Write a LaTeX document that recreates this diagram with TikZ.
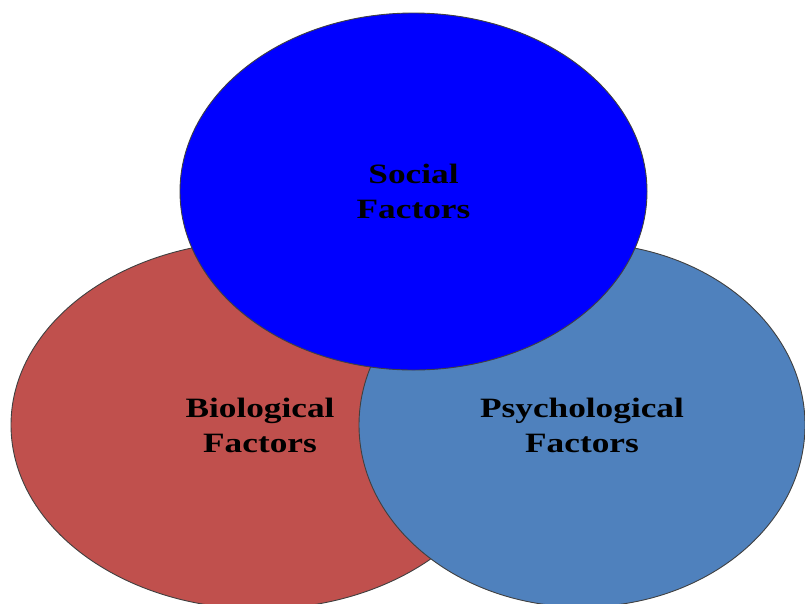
\documentclass[tikz,border=0pt]{standalone}
\usepackage{fontspec}
\usepackage{xcolor}
\usetikzlibrary{shapes.geometric, positioning}
\newfontfamily\factorfont[FakeStretch=1.26]{Liberation Serif}
\definecolor{biored}{RGB}{192, 80, 77}
\definecolor{psychblue}{RGB}{79, 129, 189}
\definecolor{socialblue}{RGB}{0, 0, 255}
\tikzstyle{factor} = [ellipse, draw=black!75, line width=0.9pt, outer sep=0pt, align=center, text=black, font=\factorfont\bfseries\fontsize{28}{35}\selectfont]

\begin{document}
\begin{tikzpicture}[x=1pt, y=-1pt]

\useasboundingbox (0,0) rectangle (805,603);
\clip (0,0) rectangle (805,603);

% Lower circles
\node (bio) [factor, fill=biored, minimum width=498pt, minimum height=368pt] at (260,425) {Biological\\Factors};
\node (psych) [factor, fill=psychblue, minimum width=446pt, minimum height=364pt, right of=bio, node distance=322pt] {Psychological\\Factors};

% Top circle
\node (social) [factor, fill=socialblue, minimum width=467pt, minimum height=357pt] at (413.5,191.5) {Social\\Factors};

\end{tikzpicture}
\end{document}
